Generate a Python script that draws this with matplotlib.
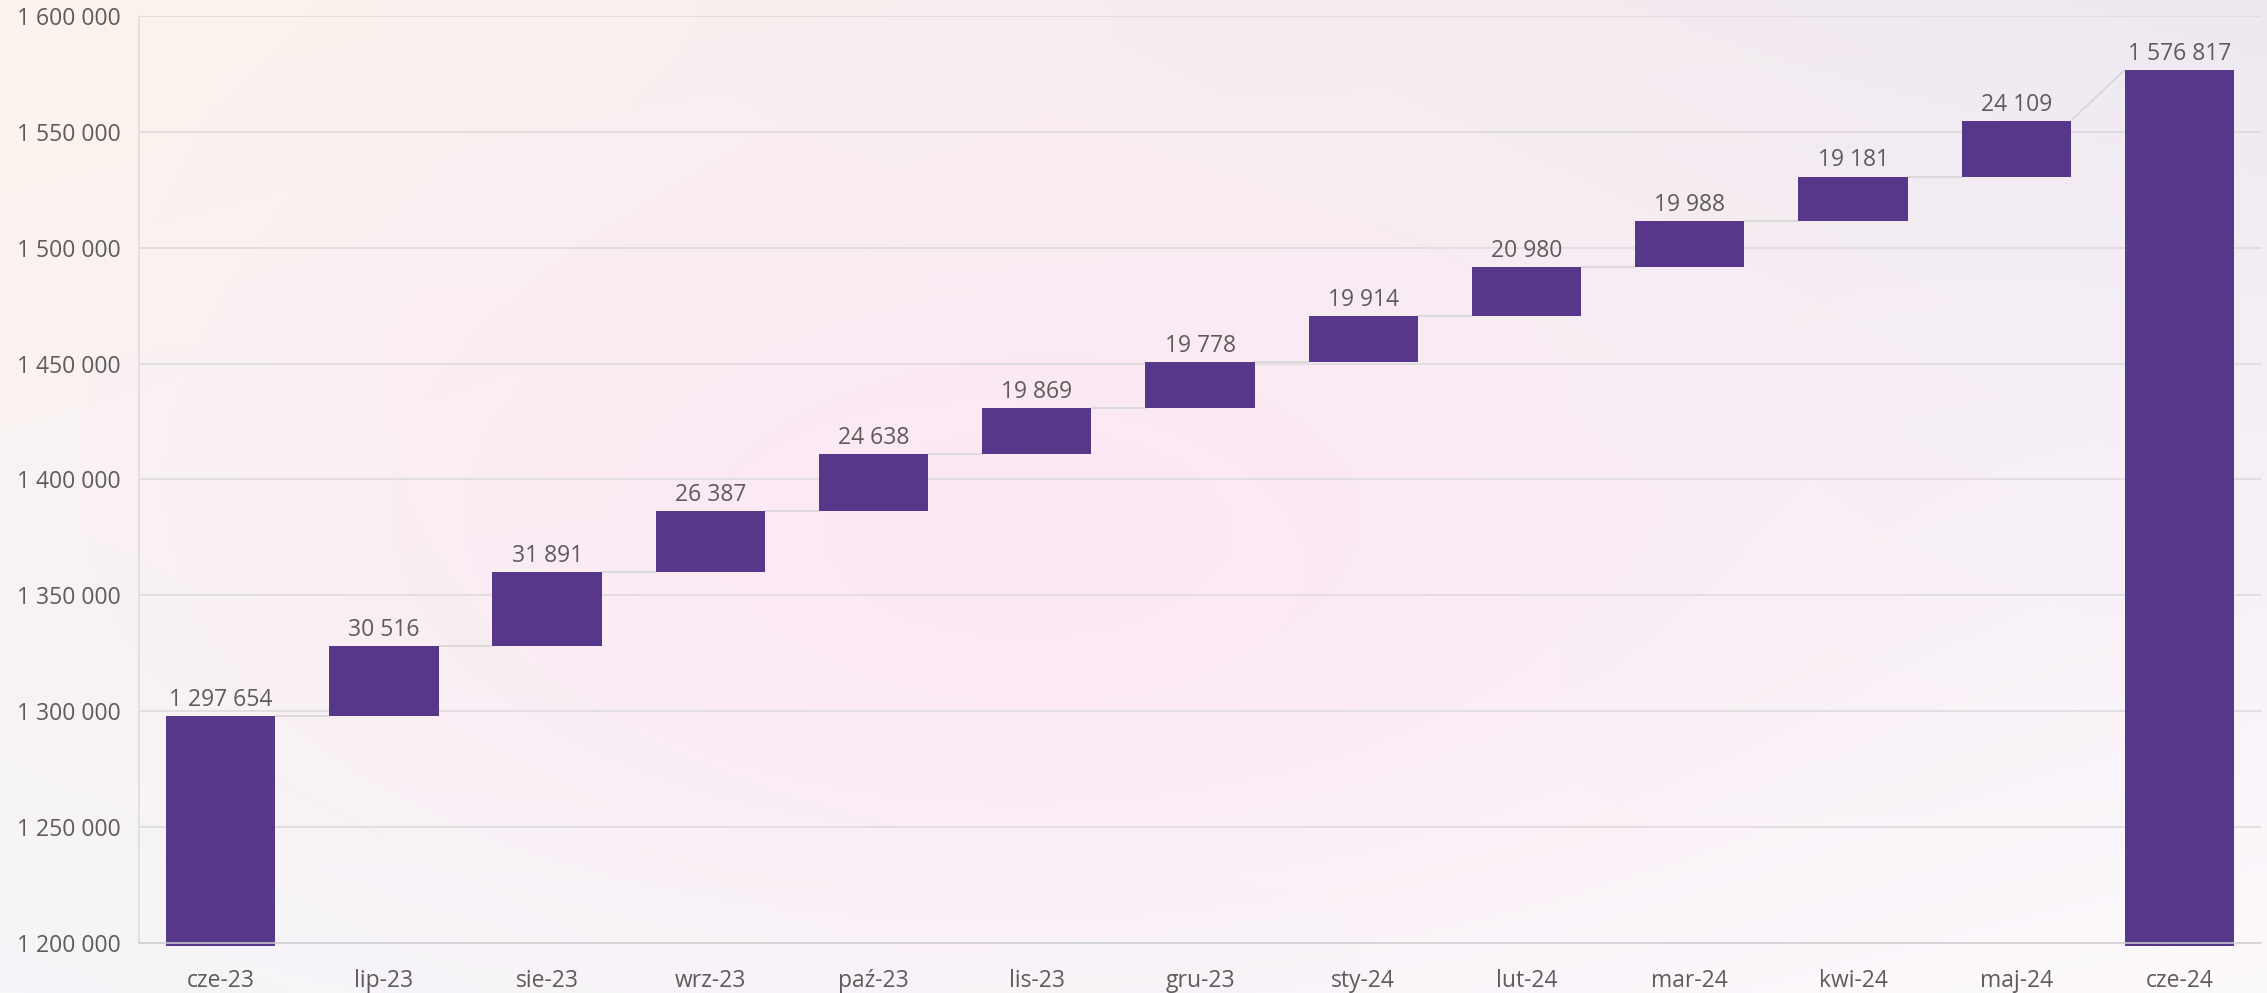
import numpy as np
import matplotlib
matplotlib.use("Agg")
import matplotlib.pyplot as plt
from matplotlib.ticker import FuncFormatter, MultipleLocator

plt.rcParams['font.family'] = ['Open Sans', 'DejaVu Sans']

months = ["cze-23", "lip-23", "sie-23", "wrz-23", "paź-23", "lis-23", "gru-23",
          "sty-24", "lut-24", "mar-24", "kwi-24", "maj-24", "cze-24"]
start_total = 1297654
deltas = [30516, 31891, 26387, 24638, 19869, 19778, 19914, 20980, 19988, 19181, 24109]
end_total = 1576817

y_min, y_max = 1200000, 1600000
bar_color = "#56378a"
text_color = "#5f5b5b"
grid_color = "#dcdadc"


def fmt(v, pos=None):
    return f"{int(round(v)):,}".replace(",", " ")


fig = plt.figure(figsize=(22.67, 9.93), dpi=100)

# background gradient
bg = fig.add_axes([0, 0, 1, 1])
h, w = 200, 460
yy, xx = np.mgrid[0:1:h * 1j, 0:1:w * 1j]
tl = np.array([253, 244, 236]) / 255
tr = np.array([238, 232, 241]) / 255
bl = np.array([244, 247, 249]) / 255
br = np.array([253, 250, 253]) / 255
img = ((1 - xx)[..., None] * (1 - yy)[..., None] * tl + xx[..., None] * (1 - yy)[..., None] * tr
       + (1 - xx)[..., None] * yy[..., None] * bl + xx[..., None] * yy[..., None] * br)
pink = np.array([252, 231, 244]) / 255
blob = np.exp(-(((xx - 0.45) / 0.36) ** 2 + ((yy - 0.55) / 0.42) ** 2))[..., None]
img = img * (1 - 0.9 * blob) + pink * 0.9 * blob
bg.imshow(img, aspect="auto", extent=[0, 1, 0, 1], interpolation="bilinear")
bg.axis("off")

ax = fig.add_axes([0.0613, 0.0507, 0.9361, 0.9329])
ax.patch.set_alpha(0)

x = np.arange(len(months))
width = 0.67
cum = np.cumsum([start_total] + deltas)
bottoms = [y_min] + list(cum[:-1]) + [y_min]
heights = [start_total - y_min] + deltas + [end_total - y_min]
tops = [b + hgt for b, hgt in zip(bottoms, heights)]

drop = 1300
for i in range(len(months)):
    b = bottoms[i]
    hh = heights[i]
    if b == y_min:
        b = y_min - drop
        hh = heights[i] + drop
    ax.bar(x[i], hh, bottom=b, width=width, color=bar_color, zorder=3, clip_on=False)

# connectors
last = len(months) - 1
for i in range(last):
    y_end = tops[i + 1] if i + 1 == last else bottoms[i + 1]
    ax.plot([x[i] + width / 2, x[i + 1] - width / 2], [tops[i], y_end],
            color="#d6d6d6", lw=1.2, zorder=2)

labels = [start_total] + deltas + [end_total]
for i, v in enumerate(labels):
    ax.annotate(fmt(v), (x[i], tops[i]), xytext=(0, 3), textcoords="offset points",
                ha="center", va="bottom", fontsize=16.5, color=text_color, zorder=4)

ax.set_xlim(-0.5, len(months) - 0.5)
ax.set_ylim(y_min, y_max)
ax.yaxis.set_major_locator(MultipleLocator(50000))
ax.yaxis.set_major_formatter(FuncFormatter(fmt))
ax.set_xticks(x)
ax.set_xticklabels(months)
ax.tick_params(axis="both", length=0, labelsize=16.5, labelcolor=text_color)
ax.tick_params(axis="x", pad=19)
ax.tick_params(axis="y", pad=13)
ax.grid(axis="y", color=grid_color, lw=1.1, zorder=0)
ax.set_axisbelow(True)
for s in ["top", "right"]:
    ax.spines[s].set_visible(False)
ax.spines["left"].set_color(grid_color)
ax.spines["left"].set_linewidth(1.1)
ax.spines["bottom"].set_color("#cfcfd2")
ax.spines["bottom"].set_linewidth(1.1)
ax.spines["bottom"].set_zorder(5)

fig.savefig("out.png", dpi=100)
